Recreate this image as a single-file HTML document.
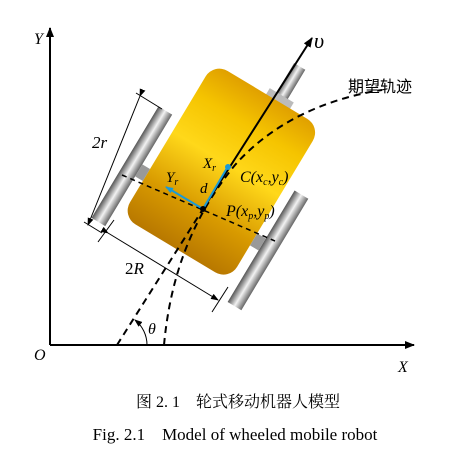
<!DOCTYPE html>
<html><head><meta charset="utf-8"><style>
html,body{margin:0;padding:0;background:#fff;width:470px;height:452px;overflow:hidden}
svg{display:block}
.t{font-family:"Liberation Serif","Noto Serif CJK SC",serif;font-style:italic}
</style></head><body>
<svg width="470" height="452" viewBox="0 0 470 452">
<defs>
<linearGradient id="gold" x1="0" y1="0" x2="0" y2="1">
<stop offset="0" stop-color="#e0a000"/><stop offset="0.2" stop-color="#f5c400"/><stop offset="0.45" stop-color="#ffd81a"/><stop offset="0.75" stop-color="#d89a00"/><stop offset="1" stop-color="#b87800"/></linearGradient>
<linearGradient id="steel" x1="0" y1="0" x2="1" y2="0">
<stop offset="0" stop-color="#555"/><stop offset="0.5" stop-color="#f2f2f2"/><stop offset="1" stop-color="#666"/></linearGradient>
<marker id="ar" markerWidth="10" markerHeight="8" refX="9" refY="4" orient="auto" markerUnits="userSpaceOnUse"><path d="M0,0 L10,4 L0,8 Z" fill="#000"/></marker>
<marker id="ar2" markerWidth="8" markerHeight="6" refX="7" refY="3" orient="auto" markerUnits="userSpaceOnUse"><path d="M0,0 L8,3 L0,6 Z" fill="#000"/></marker>
<marker id="arb" markerWidth="8" markerHeight="6" refX="7" refY="3" orient="auto" markerUnits="userSpaceOnUse"><path d="M0,0 L8,3 L0,6 Z" fill="#1a9ad6"/></marker>
</defs>
<line x1="50" y1="345" x2="50" y2="28" stroke="#000" stroke-width="2" marker-end="url(#ar)"/>
<line x1="50" y1="345" x2="414" y2="345" stroke="#000" stroke-width="2" marker-end="url(#ar)"/>
<text x="34" y="44" class="t" font-size="16">Y</text>
<text x="398" y="372" class="t" font-size="16">X</text>
<text x="34" y="360" class="t" font-size="16">O</text>
<g transform="translate(203,209) rotate(31)">
<rect x="3" y="-172" width="13" height="40" fill="url(#steel)"/>
<rect x="-5" y="-138" width="28" height="8" fill="#bbb"/>
<rect x="-66" y="-131" width="125" height="179" rx="16" fill="url(#gold)"/>
<rect x="-91" y="-65" width="16" height="130" fill="url(#steel)"/>
<rect x="69" y="-63" width="16" height="130" fill="url(#steel)"/>
<rect x="-75" y="-7" width="9" height="14" fill="#999"/>
<rect x="59" y="-7" width="10" height="14" fill="#999"/>
</g>
<path d="M164,345 C170,280 190,220 235,165 C275,120 330,98 382,90" fill="none" stroke="#000" stroke-width="2" stroke-dasharray="7,5"/>
<line x1="117" y1="345" x2="203" y2="209" stroke="#000" stroke-width="2" stroke-dasharray="7,5"/>
<line x1="203" y1="209" x2="312" y2="38" stroke="#000" stroke-width="2" marker-end="url(#ar)"/>
<line x1="122" y1="175" x2="275" y2="241" stroke="#000" stroke-width="1.5" stroke-dasharray="5,4"/>
<line x1="203" y1="209" x2="166" y2="187" stroke="#1a9ad6" stroke-width="2" marker-end="url(#arb)"/>
<line x1="203" y1="209" x2="227" y2="168" stroke="#1a9ad6" stroke-width="2"/>
<circle cx="228" cy="167" r="3" fill="#1a9ad6"/>
<circle cx="203" cy="209" r="3" fill="#000"/>
<line x1="140" y1="96" x2="88" y2="225" stroke="#000" stroke-width="1" marker-start="url(#ar2)" marker-end="url(#ar2)"/>
<line x1="136" y1="93" x2="162" y2="109" stroke="#000"/><line x1="84" y1="222" x2="102" y2="233" stroke="#000"/>
<line x1="108" y1="233" x2="218" y2="300" stroke="#000" stroke-width="1" marker-start="url(#ar2)" marker-end="url(#ar2)"/>
<line x1="114" y1="220" x2="98" y2="242" stroke="#000"/><line x1="228" y1="287" x2="212" y2="312" stroke="#000"/>
<path d="M147,345 A32,32 0 0 0 135,320" fill="none" stroke="#000" marker-end="url(#ar2)"/>
<text x="92" y="148" class="t" font-size="17">2<tspan>r</tspan></text>
<text x="125" y="274" font-family="Liberation Serif,serif" font-size="17">2<tspan font-style="italic">R</tspan></text>
<text x="148" y="334" class="t" font-size="16">θ</text>
<text x="314" y="48" class="t" font-size="22">υ</text>
<text x="203" y="168" class="t" font-size="15">X<tspan font-size="10" dy="3">r</tspan></text>
<text x="166" y="182" class="t" font-size="15">Y<tspan font-size="10" dy="3">r</tspan></text>
<text x="200" y="193" class="t" font-size="15">d</text>
<text x="240" y="182" class="t" font-size="16">C(x<tspan font-size="10" dy="3">c</tspan><tspan dy="-3">,y</tspan><tspan font-size="10" dy="3">c</tspan><tspan dy="-3">)</tspan></text>
<text x="226" y="216" class="t" font-size="16">P(x<tspan font-size="10" dy="3">p</tspan><tspan dy="-3">,y</tspan><tspan font-size="10" dy="3">p</tspan><tspan dy="-3">)</tspan></text>
<text x="348" y="92" font-family="Liberation Sans,Noto Sans CJK SC,sans-serif" font-size="16">期望轨迹</text>
<text x="238" y="407" text-anchor="middle" font-family="Liberation Serif,Noto Serif CJK SC,serif" font-size="16">图 2. 1　轮式移动机器人模型</text>
<text x="235" y="440" text-anchor="middle" font-family="Liberation Serif,serif" font-size="17" style="white-space:pre" xml:space="preserve">Fig. 2.1    Model of wheeled mobile robot</text>
</svg>
</body></html>
